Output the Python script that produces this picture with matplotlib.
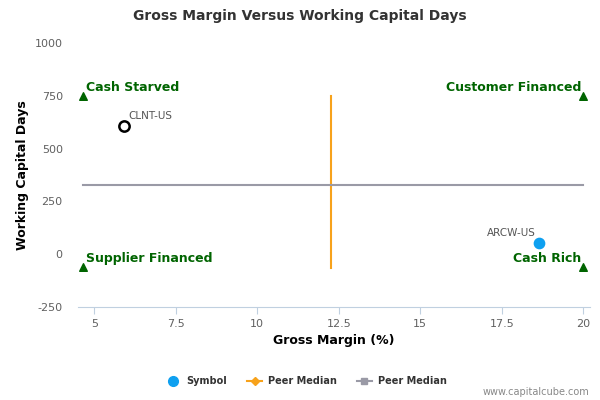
import numpy as np
import matplotlib.pyplot as plt
from matplotlib.lines import Line2D

plt.rcParams['axes.unicode_minus'] = False

# dati
symbols = ['CLNT-US', 'ARCW-US']
gross_margin = [5.9, 18.65]
wc_days = [608, 52]
symbol_filled = [False, True]

peer_median_gm = 12.27
peer_median_wc = 330

quadrants = ['Cash Starved', 'Customer Financed', 'Supplier Financed', 'Cash Rich']
quad_x = [4.66, 20.0, 4.66, 20.0]
quad_y = [750, 750, -62, -62]

x_ticks = [5, 7.5, 10, 12.5, 15, 17.5, 20]
x_labels = ['5', '7.5', '10', '12.5', '15', '17.5', '20']
y_ticks = [-250, 0, 250, 500, 750, 1000]

verde = '#006400'
blu = '#0EA0F0'
arancio = '#F7A21B'
grigio = '#9A9AA6'

fig = plt.figure(figsize=(6, 4), dpi=100)
ax = fig.add_axes([0.13, 0.2325, 0.853, 0.66])

# linee mediane
ax.plot([peer_median_gm, peer_median_gm], [750, -65], color=arancio, lw=1.5, zorder=2)
ax.plot([quad_x[0], quad_x[1]], [peer_median_wc, peer_median_wc], color=grigio, lw=1.5, zorder=2)

# quadranti
ax.scatter(quad_x, quad_y, marker='^', s=30, color=verde, zorder=3)
for i, q in enumerate(quadrants):
    if quad_x[i] < 10:
        ax.text(quad_x[i] + 0.1, quad_y[i] + 10, q, color=verde, fontsize=9,
                fontweight='bold', ha='left', va='bottom')
    else:
        ax.text(quad_x[i] - 0.05, quad_y[i] + 10, q, color=verde, fontsize=9,
                fontweight='bold', ha='right', va='bottom')

# simboli
for i, s in enumerate(symbols):
    if symbol_filled[i]:
        ax.scatter(gross_margin[i], wc_days[i], s=55, color=blu, zorder=4)
        ax.text(gross_margin[i] - 0.1, wc_days[i] + 25, s, fontsize=7.5, color='#555555',
                ha='right', va='bottom')
    else:
        ax.scatter(gross_margin[i], wc_days[i], s=55, facecolor='white',
                   edgecolor='black', linewidth=1.8, zorder=4)
        ax.text(gross_margin[i] + 0.15, wc_days[i] + 25, s, fontsize=7.5, color='#555555',
                ha='left', va='bottom')

ax.set_xlim(4.5, 20.2)
ax.set_ylim(-250, 1000)
ax.set_xticks(x_ticks)
ax.set_xticklabels(x_labels)
ax.set_yticks(y_ticks)
for sp in ['top', 'right', 'left']:
    ax.spines[sp].set_visible(False)
ax.spines['bottom'].set_color('#C0D0E0')
ax.tick_params(axis='x', colors='#C0D0E0', labelcolor='#606060', labelsize=8, length=5)
ax.tick_params(axis='y', length=0, labelcolor='#606060', labelsize=8, pad=11)

ax.set_xlabel('Gross Margin (%)', fontsize=9, fontweight='bold', labelpad=4)
ax.set_ylabel('Working Capital Days', fontsize=9, fontweight='bold', labelpad=4)
fig.text(0.5, 0.96, 'Gross Margin Versus Working Capital Days', ha='center', va='center',
         fontsize=10, fontweight='bold', color='#333333')

handles = [
    Line2D([], [], marker='o', color=blu, ls='none', markersize=7),
    Line2D([], [], marker='D', color=arancio, lw=1.5, markersize=4),
    Line2D([], [], marker='s', color=grigio, lw=1.5, markersize=5),
]
leg = fig.legend(handles, ['Symbol', 'Peer Median', 'Peer Median'], loc='center',
                 bbox_to_anchor=(0.51, 0.047), ncol=3, frameon=False, fontsize=7,
                 handlelength=1.6, columnspacing=2.0, handletextpad=0.6)
for t in leg.get_texts():
    t.set_fontweight('bold')
    t.set_color('#333333')

fig.text(0.983, 0.02, 'www.capitalcube.com', ha='right', va='center', fontsize=7,
         color='#888888')

fig.savefig('out.png', dpi=100)
